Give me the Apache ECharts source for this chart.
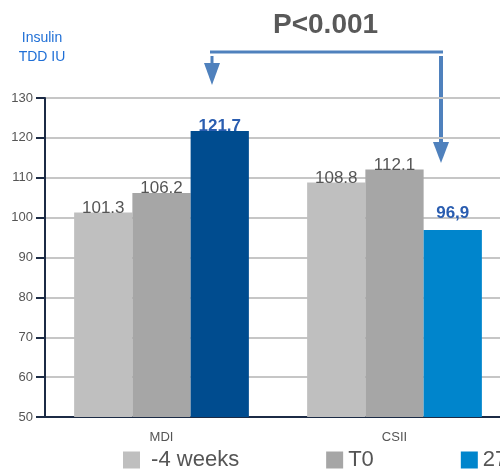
<!DOCTYPE html>
<html><head><meta charset="utf-8">
<script src="https://cdn.jsdelivr.net/npm/echarts@6/dist/echarts.min.js"></script>
<style>html,body{margin:0;padding:0;background:#fff}#c{width:500px;height:469px}</style>
</head><body><div id="c"></div>
<script>
const categories = ['MDI', 'CSII'];
const seriesNames = ['-4 weeks', 'T0', '27 weeks'];
const weeksMinus4 = [101.3, 108.8];
const t0 = [106.2, 112.1];
const weeks27 = [121.7, 96.9];
const weeks27Labels = ['121.7', '96,9'];
const yTicks = { min: 50, max: 130, interval: 10 };

const chart = echarts.init(document.getElementById('c'));
const grayLabel = { show: true, position: 'top', distance: -4, color: '#555', fontSize: 17, fontFamily: 'Liberation Sans, Arial' };
chart.setOption({
  animation: false,
  grid: { left: 45, top: 98, bottom: 52, width: 466, outerBoundsMode: 'none', containLabel: false },
  xAxis: {
    type: 'category', data: categories,
    axisLine: { lineStyle: { color: '#1c2b45', width: 2 } },
    axisTick: { length: 9, lineStyle: { color: '#1c2b45', width: 2 } },
    axisLabel: { color: '#555', fontSize: 13, margin: 14, fontFamily: 'Liberation Sans, Arial' }
  },
  yAxis: {
    type: 'value', min: yTicks.min, max: yTicks.max, interval: yTicks.interval,
    axisLine: { show: true, lineStyle: { color: '#1c2b45', width: 2 } },
    axisTick: { show: true, length: 9, lineStyle: { color: '#1c2b45', width: 2 } },
    axisLabel: { color: '#555', fontSize: 13, margin: 12, fontFamily: 'Liberation Sans, Arial' },
    splitLine: { lineStyle: { color: '#c6c6c6', width: 2 } }
  },
  legend: {
    top: 449, left: 123, width: 900, padding: 0, icon: 'rect', itemWidth: 17, itemHeight: 17, itemGap: 87, itemTextGap: 2,
    textStyle: { color: '#555', fontSize: 22, lineHeight: 22, fontFamily: 'Liberation Sans, Arial' },
    formatter: n => n === '-4 weeks' ? ' ' + n : n
  },
  series: [
    { name: seriesNames[0], type: 'bar', data: weeksMinus4, barGap: '0%', barCategoryGap: '25%',
      itemStyle: { color: '#bfbfbf' }, label: grayLabel },
    { name: seriesNames[1], type: 'bar', data: t0,
      itemStyle: { color: '#a6a6a6' }, label: grayLabel },
    { name: seriesNames[2], type: 'bar',
      itemStyle: { color: '#0085cc' },
      data: weeks27.map((v, i) => ({
        value: v,
        itemStyle: { color: i === 0 ? '#004c8f' : '#0085cc' },
        label: { show: true, position: 'top', distance: i === 0 ? -4 : 8, formatter: weeks27Labels[i],
          color: '#2a5db0', fontWeight: 'bold', fontSize: 17, fontFamily: 'Liberation Sans, Arial' }
      }))
    }
  ],
  graphic: [
    { type: 'text', x: 42, y: 29, style: { text: 'Insulin\nTDD IU', fill: '#1f6fd6', fontSize: 14, lineHeight: 19, align: 'center', fontFamily: 'Liberation Sans, Arial' } },
    { type: 'text', x: 273, y: 11, style: { text: 'P<0.001', fill: '#595959', fontSize: 28, fontWeight: 'bold', fontFamily: 'Liberation Sans, Arial' } },
    { type: 'line', shape: { x1: 210, y1: 52, x2: 443, y2: 52 }, style: { stroke: '#4f81bd', lineWidth: 3 } },
    { type: 'line', shape: { x1: 212, y1: 56, x2: 212, y2: 65 }, style: { stroke: '#4f81bd', lineWidth: 3 } },
    { type: 'polygon', shape: { points: [[204, 63], [220, 63], [212, 85]] }, style: { fill: '#4f81bd' } },
    { type: 'line', shape: { x1: 441, y1: 56, x2: 441, y2: 144 }, style: { stroke: '#4f81bd', lineWidth: 4 } },
    { type: 'polygon', shape: { points: [[433, 142], [449, 142], [441, 163]] }, style: { fill: '#4f81bd' } }
  ]
});
</script></body></html>
